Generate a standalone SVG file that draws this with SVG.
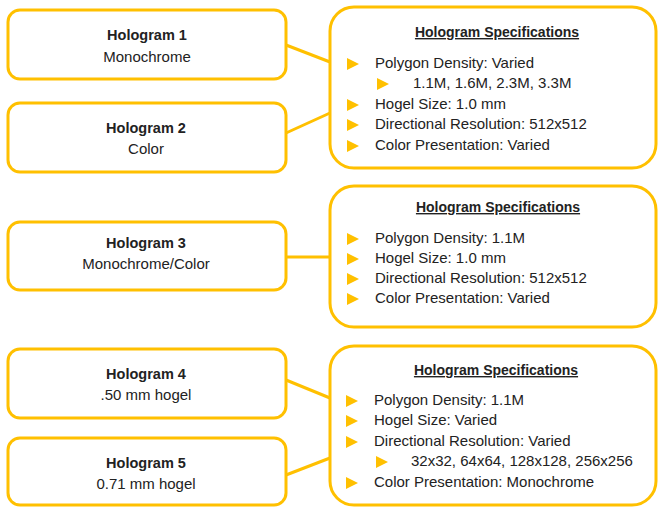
<svg xmlns="http://www.w3.org/2000/svg" width="658" height="507" viewBox="0 0 658 507">
<defs>
<style>
.box{fill:#fff;stroke:#FFC000;stroke-width:3}
.con{stroke:#FFC000;stroke-width:3;fill:none}
.tb{font-family:"Liberation Sans",Arial,sans-serif;font-weight:bold;font-size:14.5px;fill:#222;text-anchor:middle}
.tr{font-family:"Liberation Sans",Arial,sans-serif;font-size:15px;fill:#222;text-anchor:middle}
.ti{font-family:"Liberation Sans",Arial,sans-serif;font-weight:bold;font-size:14px;fill:#222;text-anchor:middle;text-decoration:underline}
.sp{font-family:"Liberation Sans",Arial,sans-serif;font-size:15px;fill:#222}
.bul{fill:#FFC000}
</style>
<polygon id="tri" points="0,-6 12,0 0,6"/>
</defs>
<g id="connectors">
<line class="con" x1="286" y1="45" x2="330" y2="62"/>
<line class="con" x1="286" y1="133" x2="330" y2="113"/>
<line class="con" x1="286" y1="257" x2="330" y2="257"/>
<line class="con" x1="286" y1="380" x2="330" y2="398"/>
<line class="con" x1="286" y1="475" x2="330" y2="458"/>
</g>
<g id="hologram1">
<rect class="box" x="8" y="10" width="278" height="69" rx="12"/>
<text class="tb" x="147" y="40">Hologram 1</text>
<text class="tr" x="147" y="62">Monochrome</text>
</g>
<g id="hologram2">
<rect class="box" x="8" y="103" width="278" height="69" rx="12"/>
<text class="tb" x="146" y="133">Hologram 2</text>
<text class="tr" x="146" y="154">Color</text>
</g>
<g id="hologram3">
<rect class="box" x="8" y="222" width="278" height="68" rx="12"/>
<text class="tb" x="146" y="248">Hologram 3</text>
<text class="tr" x="146" y="269">Monochrome/Color</text>
</g>
<g id="hologram4">
<rect class="box" x="8" y="349" width="278" height="69" rx="12"/>
<text class="tb" x="146" y="379">Hologram 4</text>
<text class="tr" x="146" y="400">.50 mm hogel</text>
</g>
<g id="hologram5">
<rect class="box" x="8" y="438" width="278" height="67" rx="12"/>
<text class="tb" x="146" y="468">Hologram 5</text>
<text class="tr" x="146" y="489">0.71 mm hogel</text>
</g>
<g id="specs1">
<rect class="box" x="330" y="7" width="326" height="161" rx="24"/>
<text class="ti" x="497" y="37">Hologram Specifications</text>
<use href="#tri" class="bul" x="347" y="64"/>
<text class="sp" x="375" y="68">Polygon Density: Varied</text>
<use href="#tri" class="bul" x="377" y="84"/>
<text class="sp" x="413" y="88">1.1M, 1.6M, 2.3M, 3.3M</text>
<use href="#tri" class="bul" x="347" y="105"/>
<text class="sp" x="375" y="109">Hogel Size: 1.0 mm</text>
<use href="#tri" class="bul" x="347" y="125"/>
<text class="sp" x="375" y="129">Directional Resolution: 512x512</text>
<use href="#tri" class="bul" x="347" y="146"/>
<text class="sp" x="375" y="150">Color Presentation: Varied</text>
</g>
<g id="specs2">
<rect class="box" x="330" y="186" width="326" height="141" rx="24"/>
<text class="ti" x="498" y="212">Hologram Specifications</text>
<use href="#tri" class="bul" x="347" y="239"/>
<text class="sp" x="375" y="243">Polygon Density: 1.1M</text>
<use href="#tri" class="bul" x="347" y="259"/>
<text class="sp" x="375" y="263">Hogel Size: 1.0 mm</text>
<use href="#tri" class="bul" x="347" y="279"/>
<text class="sp" x="375" y="283">Directional Resolution: 512x512</text>
<use href="#tri" class="bul" x="347" y="299"/>
<text class="sp" x="375" y="303">Color Presentation: Varied</text>
</g>
<g id="specs3">
<rect class="box" x="330" y="346" width="326" height="159" rx="24"/>
<text class="ti" x="496" y="375">Hologram Specifications</text>
<use href="#tri" class="bul" x="346" y="401"/>
<text class="sp" x="374" y="405">Polygon Density: 1.1M</text>
<use href="#tri" class="bul" x="346" y="421"/>
<text class="sp" x="374" y="425">Hogel Size: Varied</text>
<use href="#tri" class="bul" x="346" y="442"/>
<text class="sp" x="374" y="446">Directional Resolution: Varied</text>
<use href="#tri" class="bul" x="376" y="462"/>
<text class="sp" x="411" y="466">32x32, 64x64, 128x128, 256x256</text>
<use href="#tri" class="bul" x="346" y="483"/>
<text class="sp" x="374" y="487">Color Presentation: Monochrome</text>
</g>
</svg>
